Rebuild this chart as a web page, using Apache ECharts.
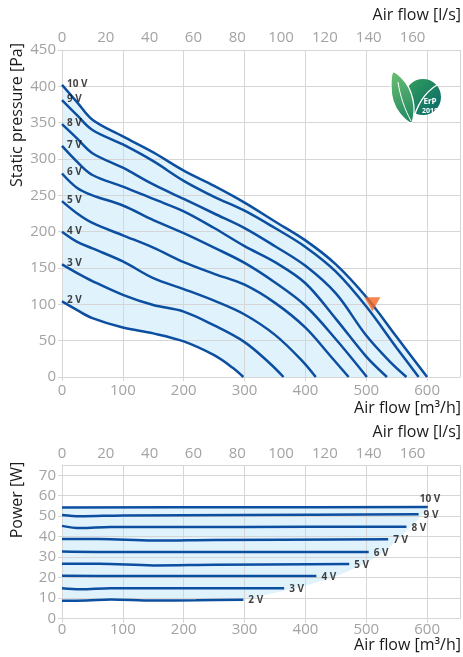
<!DOCTYPE html>
<html><head><meta charset="utf-8">
<script src="https://cdn.jsdelivr.net/npm/echarts@6/dist/echarts.min.js"></script>
<style>html,body{margin:0;padding:0;background:#fff}#c{width:463px;height:657px}</style>
</head><body><div id="c"></div>
<script>
// ---------- DATA ----------
const voltages = ['2 V','3 V','4 V','5 V','6 V','7 V','8 V','9 V','10 V'];
// Pressure curves [air flow m3/h, static pressure Pa]
const p2V  = [[0,104],[25,92],[50,81],[100,68],[150,60],[200,49],[250,30],[280,13],[298,0]];
const p3V  = [[0,155],[25,143],[50,132],[100,113],[150,99],[200,90],[250,71],[300,48],[340,20],[364,0]];
const p4V  = [[0,200],[25,186],[50,177],[100,159],[150,136],[200,121],[250,105],[300,86],[350,58],[395,22],[417,0]];
const p5V  = [[0,242],[25,225],[50,212],[100,195],[150,178],[200,158],[250,142],[300,127],[350,102],[400,68],[440,30],[471,0]];
const p6V  = [[0,280],[25,260],[50,250],[100,236],[150,216],[200,198],[250,178],[300,157],[350,130],[400,98],[450,52],[501,0]];
const p7V  = [[0,318],[25,296],[50,278],[100,262],[150,245],[200,228],[250,205],[300,180],[350,158],[400,129],[450,80],[500,28],[534,0]];
const p8V  = [[0,348],[25,328],[50,308],[100,288],[150,265],[200,245],[250,225],[300,205],[350,180],[400,153],[450,115],[500,57],[540,20],[566,0]];
const p9V  = [[0,381],[25,360],[50,340],[100,320],[150,297],[200,270],[250,248],[300,229],[350,205],[400,179],[450,145],[500,97],[550,40],[586,0]];
const p10V = [[0,402],[25,378],[50,354],[100,331],[150,309],[200,284],[250,263],[300,240],[350,214],[400,188],[450,155],[500,110],[550,55],[600,0]];
const pressureCurves = [p2V,p3V,p4V,p5V,p6V,p7V,p8V,p9V,p10V];
// Power curves [air flow m3/h, power W]
const w2V  = [[0,8.8],[40,8.9],[80,9.4],[150,8.9],[220,9.0],[298,9.3]];
const w3V  = [[0,14.9],[30,14.4],[80,14.9],[200,14.9],[365,14.9]];
const w4V  = [[0,20.9],[100,20.8],[250,20.8],[418,20.8]];
const w5V  = [[0,26.8],[60,26.8],[150,26.0],[250,26.3],[472,26.7]];
const w6V  = [[0,32.8],[100,32.5],[300,32.6],[504,32.6]];
const w7V  = [[0,38.9],[60,38.9],[150,38.1],[250,38.4],[536,38.8]];
const w8V  = [[0,45.3],[30,44.2],[80,44.7],[300,44.8],[566,44.9]];
const w9V  = [[0,50.6],[30,50.0],[100,50.4],[300,50.6],[586,51.0]];
const w10V = [[0,54.3],[300,54.4],[601,54.5]];
const powerCurves = [w2V,w3V,w4V,w5V,w6V,w7V,w8V,w9V,w10V];
// right boundary of the shaded power region
const powerFillEdge = [[340,12],[391,15.5],[452,21],[498,27],[530,33],[553,39],[573,45],[590,50],[601,54.5]];
// operating point marker
const markerPoint = [[510,100]];
// axes
const flowMax = 654, flowStep = 100;
const lsFactor = 3.6, lsStep = 20, lsLastLabel = 160;
const pMax = 450, pStep = 50;
const wMax = 75, wStep = 10;

// ---------- STYLE ----------
const FONT = "'Open Sans','Noto Sans',sans-serif";
const LINE = '#0c4fa0', FILL = '#e0f2fc', GRID = '#d6d6d6', LAB = '#a3a3a3';
const SMOOTH = 0.35;
const gridTop = {left:62, top:50, width:398, height:327};
const gridBot = {left:62, top:465, width:398, height:153.7};

function xFlow(gi){return {type:'value',gridIndex:gi,min:0,max:flowMax,interval:flowStep,z:4,
  axisLine:{show:true,lineStyle:{color:GRID,width:1}},axisTick:{show:true,length:4,lineStyle:{color:GRID}},
  splitLine:{show:true,lineStyle:{color:GRID,width:1}},
  axisLabel:{color:LAB,fontFamily:FONT,fontSize:15,margin:gi===0?6:4,showMaxLabel:false}};}
function xLs(gi){return {type:'value',gridIndex:gi,position:'top',min:0,max:flowMax/lsFactor,interval:lsStep,z:4,
  axisLine:{show:false},axisTick:{show:false},splitLine:{show:false},
  axisLabel:{color:LAB,fontFamily:FONT,fontSize:15,margin:gi===0?5:4,showMaxLabel:false,
    formatter:function(v){return v>lsLastLabel?'':String(v);}}};}
function yAx(gi,max,step,showMax){return {type:'value',gridIndex:gi,min:0,max:max,interval:step,z:4,
  axisLine:{show:true,lineStyle:{color:GRID,width:1}},axisTick:{show:true,length:4,lineStyle:{color:GRID}},
  splitLine:{show:true,lineStyle:{color:GRID,width:1}},
  axisLabel:{color:LAB,fontFamily:FONT,fontSize:15,margin:6,showMaxLabel:showMax}};}

const series = [];
// shaded regions
series.push({type:'line',xAxisIndex:0,yAxisIndex:0,data:p10V,smooth:SMOOTH,symbol:'none',
  lineStyle:{width:0,opacity:0},areaStyle:{color:FILL,opacity:1},z:1,silent:true});
series.push({type:'line',xAxisIndex:0,yAxisIndex:0,data:p2V,smooth:SMOOTH,symbol:'none',
  lineStyle:{width:0,opacity:0},areaStyle:{color:'#ffffff',opacity:1},z:2,silent:true});
series.push({type:'line',xAxisIndex:2,yAxisIndex:1,data:w10V,smooth:SMOOTH,symbol:'none',
  lineStyle:{width:0,opacity:0},areaStyle:{color:FILL,opacity:1},z:1,silent:true});
series.push({type:'line',xAxisIndex:2,yAxisIndex:1,data:w2V.concat(powerFillEdge),smooth:SMOOTH,symbol:'none',
  lineStyle:{width:0,opacity:0},areaStyle:{color:'#ffffff',opacity:1},z:2,silent:true});
// curves
pressureCurves.forEach(function(c){
  series.push({type:'line',xAxisIndex:0,yAxisIndex:0,data:c,smooth:SMOOTH,symbol:'none',
    lineStyle:{color:LINE,width:2.5},z:5,silent:true});
});
powerCurves.forEach(function(c){
  series.push({type:'line',xAxisIndex:2,yAxisIndex:1,data:c,smooth:SMOOTH,symbol:'none',
    lineStyle:{color:LINE,width:2.5},z:5,silent:true});
});
// curve labels
const labStyle = {show:true,position:'right',formatter:'{b}',color:'#111',fontFamily:FONT,fontWeight:'bold',fontSize:10};
series.push({type:'scatter',xAxisIndex:0,yAxisIndex:0,symbolSize:0,clip:false,z:6,silent:true,
  itemStyle:{color:'rgba(0,0,0,0)'},
  label:Object.assign({},labStyle,{distance:5,offset:[0,-1]}),
  data:pressureCurves.map(function(c,i){return {name:voltages[i],value:c[0]};})});
series.push({type:'scatter',xAxisIndex:2,yAxisIndex:1,symbolSize:0,clip:false,z:6,silent:true,
  itemStyle:{color:'rgba(0,0,0,0)'},
  label:Object.assign({},labStyle,{distance:5,offset:[0,1]}),
  data:powerCurves.map(function(c,i){
    const it = {name:voltages[i],value:c[c.length-1]};
    if(i===powerCurves.length-1) it.label={offset:[-13,-8]};
    return it;})});
// marker
series.push({type:'scatter',xAxisIndex:0,yAxisIndex:0,data:markerPoint,symbol:'triangle',symbolRotate:180,
  symbolSize:[16,14],itemStyle:{color:'#f26522'},z:7,silent:true});

function axisName(txt,x,y,rot){
  return {type:'text',x:x,y:y,rotation:rot||0,z:10,
    style:{text:txt,fill:'#1a1a1a',font:'16px '+FONT,align:rot?'center':'right',verticalAlign:'middle'}};
}
const leafGrad = new echarts.graphic.LinearGradient(0,0,1,1,[{offset:0,color:'#6cbf72'},{offset:1,color:'#1b8560'}]);
const circGrad = new echarts.graphic.LinearGradient(0,0,1,1,[{offset:0,color:'#35a15a'},{offset:1,color:'#07666c'}]);
const graphics = [
  axisName('Air flow [l/s]',461,15),
  axisName('Air flow [m³/h]',461,408),
  axisName('Air flow [l/s]',461,432),
  axisName('Air flow [m³/h]',461,645),
  axisName('Static pressure [Pa]',17,115,Math.PI/2),
  axisName('Power [W]',17,500,Math.PI/2),
  {type:'circle',z:10,shape:{cx:423,cy:97,r:18},style:{fill:circGrad}},
  {type:'polygon',z:11,shape:{points:[[411,123],[400,114],[393,101],[391,86],[393,72],[402,78],[409,88],[413,100],[414,112]],smooth:0.3},
    style:{fill:leafGrad,stroke:'#ffffff',lineWidth:1.3}},
  {type:'bezierCurve',z:12,shape:{x1:411,y1:121,cpx1:405,cpy1:110,cpx2:400,cpy2:96,x2:398,y2:82},style:{fill:null,stroke:'#ffffff',lineWidth:1}},
  {type:'bezierCurve',z:12,shape:{x1:413,y1:122,cpx1:416,cpy1:106,cpx2:425,cpy2:92,x2:437,y2:85},style:{fill:null,stroke:'#ffffff',lineWidth:1.4}},
  {type:'text',z:12,x:430,y:102,style:{text:'ErP',fill:'#fff',font:'bold 8px '+FONT,align:'center',verticalAlign:'middle'}},
  {type:'text',z:12,x:430,y:111,style:{text:'2018',fill:'#fff',font:'bold 7px '+FONT,align:'center',verticalAlign:'middle'}}
];

const chart = echarts.init(document.getElementById('c'),null,{renderer:'canvas'});
chart.setOption({
  animation:false,
  backgroundColor:'#fff',
  grid:[gridTop,gridBot],
  xAxis:[xFlow(0),xLs(0),xFlow(1),xLs(1)],
  yAxis:[yAx(0,pMax,pStep,true),yAx(1,wMax,wStep,false)],
  series:series,
  graphic:graphics
});
</script></body></html>
